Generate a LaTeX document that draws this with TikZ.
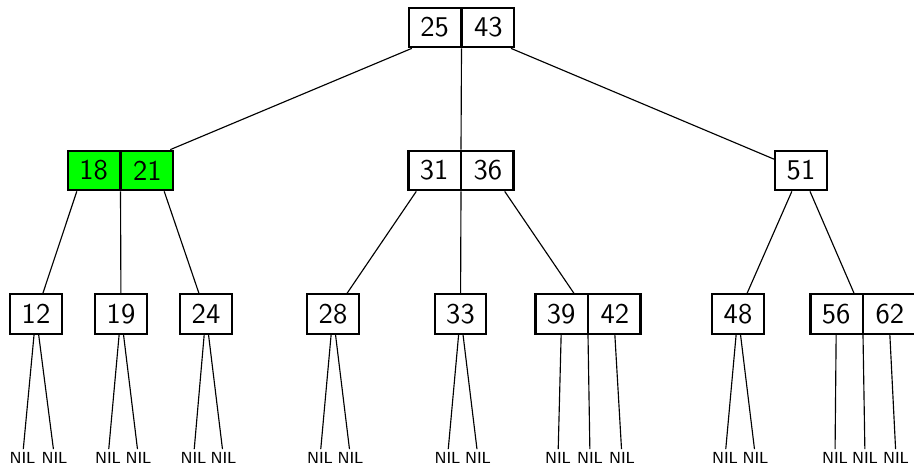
\documentclass[tikz,border=0pt]{standalone}
\usetikzlibrary{positioning,calc,shapes.multipart}

\begin{document}
\begin{tikzpicture}[x=0.35pt, y=-0.35pt,
    every node/.append style={font=\sffamily},
    key/.style={draw, thick, rectangle, inner xsep=4pt, inner ysep=0pt, minimum height=13.8pt},
    pair/.style={key, rectangle split, rectangle split horizontal, rectangle split parts=2},
    found/.style={fill=green},
    nil/.style={inner sep=0.8pt, font=\sffamily\fontsize{5.6}{6}\selectfont}]
   \useasboundingbox (0,0) rectangle (914,464);

   % root
   \node [pair] (n2543) at (461.5,27.5) {25\nodepart{two}43};

   % inner level
   \node [pair, found] (n1821) at (120.5,170.5) {18\nodepart{two}21};
   \node [pair] (n3136) at (461,170.5) {31\nodepart{two}36};
   \node [key] (n51) at (801,170.5) {51};

   % leaves
   \node [key] (n12) at (36,314) {12};
   \node [key] (n19) at (121,314) {19};
   \node [key] (n24) at (206,314) {24};
   \node [key] (n28) at (333,314) {28};
   \node [key] (n33) at (460.5,314) {33};
   \node [pair] (n3942) at (588,314) {39\nodepart{two}42};
   \node [key] (n48) at (738,314) {48};
   \node [pair] (n5662) at (863,314) {56\nodepart{two}62};

   % nil pointers
   \node [nil] (nil12a) at (22.5,457.5) {NIL};
   \node [nil] (nil12b) at (54.5,457.5) {NIL};
   \node [nil] (nil19a) at (108,457.5) {NIL};
   \node [nil] (nil19b) at (138.5,457.5) {NIL};
   \node [nil] (nil24a) at (193.5,457.5) {NIL};
   \node [nil] (nil24b) at (223.5,457.5) {NIL};
   \node [nil] (nil28a) at (320,457.5) {NIL};
   \node [nil] (nil28b) at (350.5,457.5) {NIL};
   \node [nil] (nil33a) at (447.5,457.5) {NIL};
   \node [nil] (nil33b) at (478,457.5) {NIL};
   \node [nil] (nil39a) at (558,457.5) {NIL};
   \node [nil] (nil39b) at (590,457.5) {NIL};
   \node [nil] (nil39c) at (622,457.5) {NIL};
   \node [nil] (nil48a) at (725,457.5) {NIL};
   \node [nil] (nil48b) at (755.5,457.5) {NIL};
   \node [nil] (nil56a) at (835,457.5) {NIL};
   \node [nil] (nil56b) at (865,457.5) {NIL};
   \node [nil] (nil56c) at (896,457.5) {NIL};

   \path[thin] (n2543) edge (n1821)
   (n2543.south) edge (n3136.north)
   (n2543) edge (n51)
   ($(n1821.south west)+(10,0)$) edge (n12)
   (n1821.south) edge (n19)
   ($(n1821.south east)+(-10,0)$) edge (n24)
   ($(n3136.south west)+(9,0)$) edge (n28)
   (n3136.south) edge (n33)
   ($(n3136.south east)+(-10,0)$) edge (n3942)
   (n51) edge (n48)
   (n51) edge (n5662);

   \path[thin] (n12) edge (nil12a)
   (n12) edge (nil12b)
   (n19) edge (nil19a)
   (n19) edge (nil19b)
   (n24) edge (nil24a)
   (n24) edge (nil24b)
   (n28) edge (nil28a)
   (n28) edge (nil28b)
   (n33) edge (nil33a)
   (n33) edge (nil33b)
   ($(n3942.south west)!0.25!(n3942.south east)$) edge (nil39a)
   (n3942.south) edge (nil39b)
   ($(n3942.south west)!0.75!(n3942.south east)$) edge (nil39c)
   (n48) edge (nil48a)
   (n48) edge (nil48b)
   ($(n5662.south west)!0.25!(n5662.south east)$) edge (nil56a)
   (n5662.south) edge (nil56b)
   ($(n5662.south west)!0.75!(n5662.south east)$) edge (nil56c);
\end{tikzpicture}
\end{document}
